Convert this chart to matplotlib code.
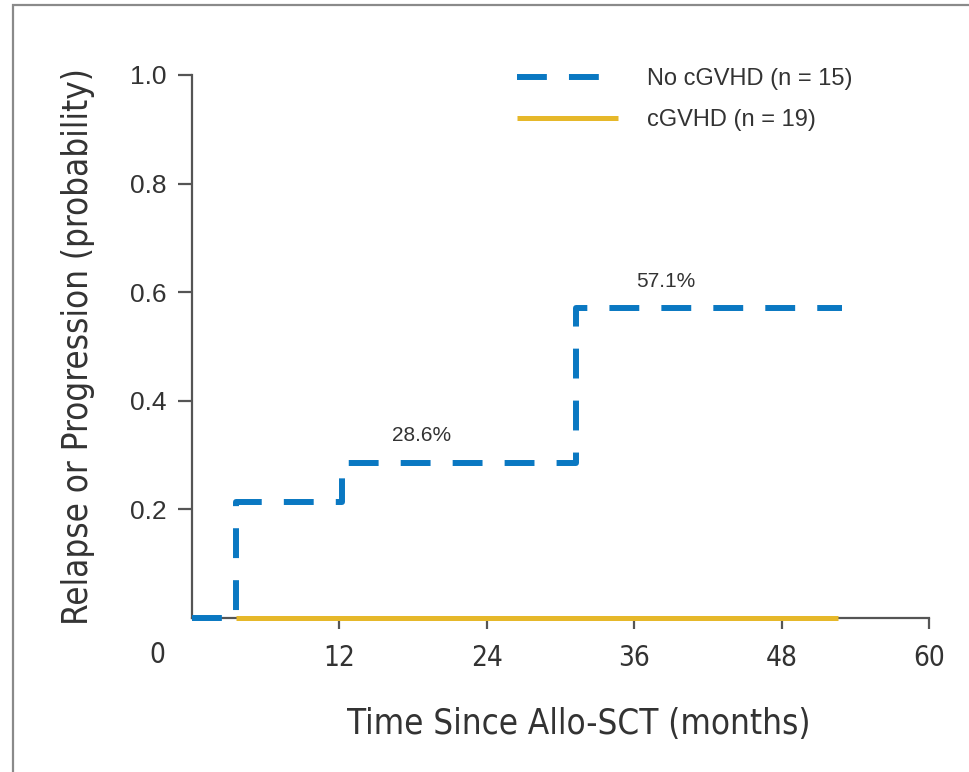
import matplotlib
matplotlib.use("Agg")
import matplotlib.pyplot as plt
from matplotlib.patches import Rectangle

# cumulative incidence of relapse/progression, step functions
months_no_cgvhd = [0, 3.6, 12.2, 31.3, 52.9]
prob_no_cgvhd = [0, 0.214, 0.286, 0.571, 0.571]
months_cgvhd = [3.6, 52.6]
prob_cgvhd = [0, 0]

x_ticks = [12, 24, 36, 48, 60]
y_ticks = [0.2, 0.4, 0.6, 0.8, 1.0]
labels = ["No cGVHD (n = 15)", "cGVHD (n = 19)"]
callouts = [(prob_no_cgvhd[2], 18.7, "28.6%"), (prob_no_cgvhd[3], 38.6, "57.1%")]

BLUE = "#0a78c2"
GOLD = "#e6b82a"
INK = "#333333"
NARROW = dict(family=["Liberation Sans Narrow", "DejaVu Sans"], stretch="condensed")

plt.rcParams["font.family"] = ["Liberation Sans", "DejaVu Sans"]

fig = plt.figure(figsize=(9.7, 7.72), dpi=100)
fig.patches.append(Rectangle((13 / 970, -0.2), 1.2, 1.2 - 5 / 772,
                             transform=fig.transFigure, fill=False,
                             edgecolor="#8a8a8a", linewidth=1.6))
ax = fig.add_axes([192 / 970, 1 - 618 / 772, 737 / 970, 543 / 772])

ax.step(months_no_cgvhd, prob_no_cgvhd, where="post", color=BLUE, linewidth=4.3,
        dashes=(5, 3.7), dash_capstyle="butt", clip_on=False, zorder=4,
        label=labels[0])
ax.plot(months_cgvhd, prob_cgvhd, color=GOLD, linewidth=3.6, clip_on=False,
        solid_capstyle="butt", zorder=3, label=labels[1])

for y, x, txt in callouts:
    ax.text(x, y + 0.032, txt, ha="center", va="bottom", fontsize=15, color=INK)

ax.set_xlim(0, 60)
ax.set_ylim(0, 1)
ax.set_xticks(x_ticks)
ax.set_yticks(y_ticks)
ax.set_yticklabels([f"{v:.1f}" for v in y_ticks], fontsize=19, color=INK)
ax.set_xticklabels([str(v) for v in x_ticks], fontsize=20, color=INK, **NARROW)
ax.text(-0.047, -0.068, "0", transform=ax.transAxes, ha="center", va="center",
        fontsize=20, color=INK, **NARROW)

for side in ("top", "right"):
    ax.spines[side].set_visible(False)
for side in ("left", "bottom"):
    ax.spines[side].set_color("#555555")
    ax.spines[side].set_linewidth(1.6)
ax.tick_params(axis="y", length=10, width=1.6, color="#555555", pad=8)
ax.tick_params(axis="x", length=8, width=1.6, color="#555555", pad=11)

ax.set_xlabel("Time Since Allo-SCT (months)", fontsize=25, color=INK, **NARROW)
ax.set_ylabel("Relapse or Progression (probability)", fontsize=25, color=INK, **NARROW)
ax.xaxis.set_label_coords(0.525, -0.163)
ax.yaxis.set_label_coords(-0.132, 0.499)

leg = ax.legend(loc="upper left", bbox_to_anchor=(0.412, 1.052), frameon=False,
                fontsize=17, handlelength=4.3, handletextpad=1.2, labelspacing=0.8,
                labelcolor=INK)

fig.savefig("out.png", dpi=100)
